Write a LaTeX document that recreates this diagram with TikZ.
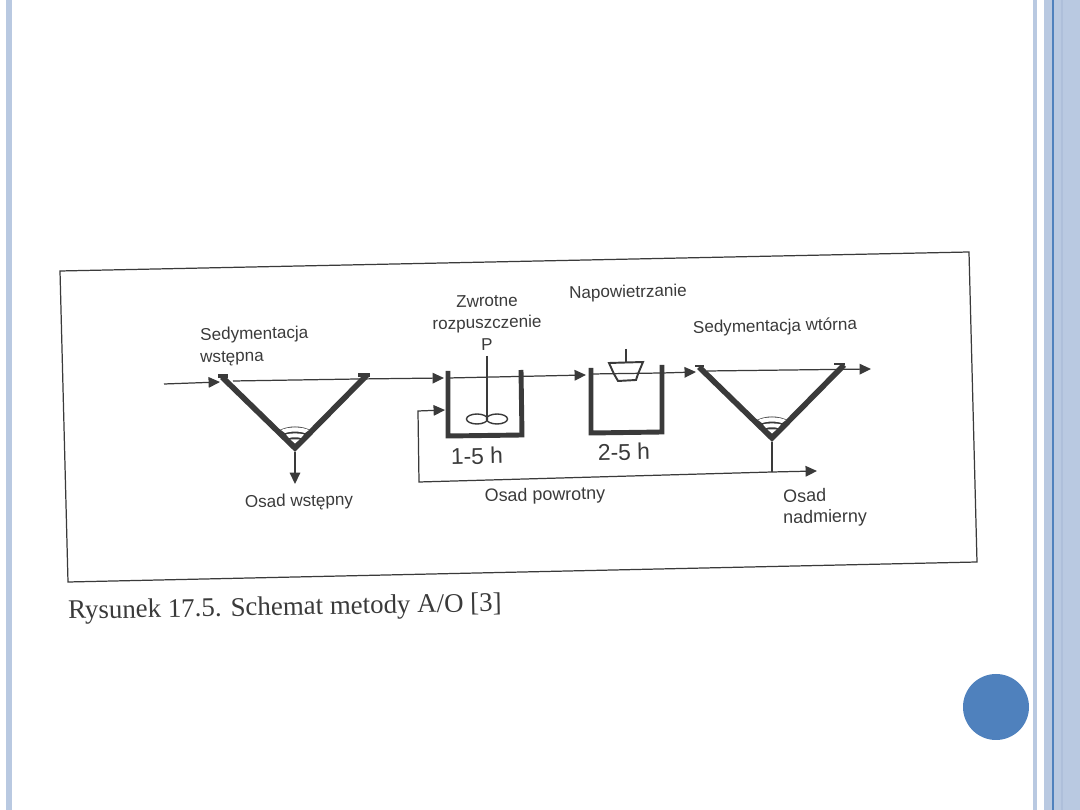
\documentclass[tikz,border=0pt]{standalone}
\usepackage{fontspec}
\setmainfont{Liberation Sans}
\newfontfamily\captionfont{Liberation Serif}
\usepackage{xcolor}
\usetikzlibrary{positioning,calc,arrows.meta,shapes.geometric}

\definecolor{barblue}{HTML}{B9C9E1}
\definecolor{barline}{HTML}{AEBFDA}
\definecolor{deepblue}{HTML}{4F81BD}
\definecolor{ink}{HTML}{3A3A3A}

\tikzset{
    flow/.style={draw=ink, line width=0.7pt},
    arrowflow/.style={flow, -{Triangle[length=6.5pt,width=6pt]}},
    wall/.style={draw=ink, line width=2.8pt, line cap=butt, line join=miter},
    blade/.style={draw=ink, line width=0.8pt, ellipse, minimum width=0.42cm, minimum height=0.2cm, inner sep=0pt},
    label/.style={text=ink, font=\fontsize{9.7}{11}\selectfont, rotate=1.2, inner sep=0pt},
    timelabel/.style={label, font=\fontsize{13}{15}\selectfont},
    % settling tank: wedge walls and the sludge bands at its tip
    settler/.pic={
        \draw[wall, line width=3.2pt] (-73,-75) -- (0,-4) -- (72,-77);
        \fill[ink] (0,-4) -- (-17,-21) .. controls (-7,-27) and (7,-27) .. (17,-21) -- cycle;
        \fill[white] (-14,-22) .. controls (-6,-25.5) and (6,-25.5) .. (14,-22) -- (10,-19) .. controls (4,-21) and (-4,-21) .. (-10,-19) -- cycle;
        \fill[white] (-9,-17.5) .. controls (-4,-19) and (4,-19) .. (9,-17.5) -- (6,-14) .. controls (3,-15) and (-3,-15) .. (-6,-14) -- cycle;
        \fill[white] (-4.5,-12.5) -- (4.5,-12.5) -- (0,-8.5) -- cycle;
    }
}

\begin{document}
\begin{tikzpicture}[x=0.02cm, y=-0.02cm]
    \useasboundingbox (0,0) rectangle (1080,810);
    \fill[white] (0,0) rectangle (1080,810);

    % slide frame
    \fill[barblue] (6,0) rectangle (12,810);
    \fill[barblue] (1033,0) rectangle (1037,810);
    \fill[barblue] (1044,0) rectangle (1080,810);
    \fill[deepblue] (1052,0) rectangle (1054,810);
    \fill[barline] (1061,0) rectangle (1063,810);
    \fill[deepblue] (996,707) circle (33);

    % figure border, slightly skewed
    \draw[draw=ink, line width=0.7pt] (60,271) -- (969,252) -- (977,562) -- (68,582) -- cycle;

    % main line
    \coordinate (inlet) at (164,384);
    \coordinate (tankAin) at (220,382);
    \coordinate (waterAl) at (233,381);
    \coordinate (waterAr) at (358,379);
    \coordinate (mixerin) at (444,378);
    \coordinate (mixerout) at (448,378);
    \coordinate (aerin) at (586,375);
    \coordinate (aerwall) at (591,374);
    \coordinate (aerout) at (662,373);
    \coordinate (tankBin) at (696,372);
    \coordinate (waterBl) at (707,371);
    \coordinate (outlet) at (871,369);
    \draw[arrowflow] (inlet) -- (tankAin);
    \draw[flow] (waterAl) -- (waterAr);
    \draw[arrowflow] (waterAr) -- (mixerin);
    \draw[arrowflow] (mixerout) -- (aerin);
    \draw[arrowflow] (aerout) -- (tankBin);
    \draw[arrowflow] (waterBl) -- (outlet);

    % settling tanks
    \pic at (295,452) {settler};
    \pic at (772,442) {settler};

    % flanges
    \draw[wall, line width=2pt] (218,376) -- (228,376);
    \draw[wall, line width=2pt] (358,375) -- (370,375);
    \draw[wall, line width=1.6pt] (695,366) -- (704,366);
    \draw[wall, line width=1.6pt] (834,364) -- (845,364);

    % anoxic and aerated reactors
    \draw[wall] (448,371) -- (448,436) -- (522,435) -- (521,370);
    \draw[wall] (591,368) -- (591,433) -- (662,432) -- (662,365);

    % mixer
    \coordinate (mixertop) at (487,356);
    \coordinate (mixerhub) at (487,418);
    \draw[flow] (mixertop) -- (mixerhub);
    \node[blade] (bladeL) at (477,419) {};
    \node[blade] (bladeR) at (497,419) {};

    % aerator
    \draw[flow, line width=0.9pt] (626,349) -- (626,363);
    \draw[flow, line width=1.1pt, fill=white] (609,363) -- (643,362) -- (638,374) -- (636,380) -- (618,381) -- (614,374) -- cycle;
    \draw[flow] (aerwall) -- (aerout);

    % sludge lines
    \coordinate (tipA) at (295,452);
    \coordinate (primaryout) at (295,484);
    \draw[arrowflow, line width=0.9pt] (tipA) -- (primaryout);

    \coordinate (tipB) at (772,442);
    \coordinate (junction) at (772,472);
    \coordinate (excess) at (817,471);
    \coordinate (returnL) at (419,482);
    \coordinate (returnU) at (418,411);
    \coordinate (returnin) at (445,410);
    \draw[flow, line width=0.9pt] (tipB) -- (junction);
    \draw[arrowflow] (junction) -- (excess);
    \draw[arrowflow] (junction) -- (returnL) -- (returnU) -- (returnin);

    % labels
    \node[label, anchor=west] (presettling) at (200,336) {Sedymentacja};
    \node[label, anchor=west] (presettling2) at (200,359) {wstępna};
    \node[label] (reverse) at (487,301) {Zwrotne};
    \node[label] (reverse2) at (487,324) {rozpuszczenie};
    \node[label] (pump) at (487,345) {P};
    \node[label] (aeration) at (628,293) {Napowietrzanie};
    \node[label] (postsettling) at (775,327) {Sedymentacja wtórna};
    \node[timelabel] (timeA) at (477,456) {1-5 h};
    \node[timelabel] (timeB) at (624,452) {2-5 h};
    \node[label] (primary) at (299,502) {Osad wstępny};
    \node[label, font=\fontsize{10.2}{12}\selectfont] (recycle) at (545,496) {Osad powrotny};
    \node[label, anchor=west, font=\fontsize{10.2}{12}\selectfont] (waste) at (783,496) {Osad};
    \node[label, anchor=west, font=\fontsize{10.2}{12}\selectfont] (waste2) at (783,519) {nadmierny};

    % caption
    \node[anchor=base west, rotate=1, inner sep=0pt, text=ink, font=\captionfont\fontsize{15.3}{18}\selectfont] (caption) at (68,619) {Rysunek 17.5. Schemat metody A/O [3]};
\end{tikzpicture}
\end{document}
